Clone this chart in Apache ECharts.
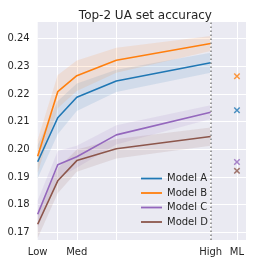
<!DOCTYPE html>
<html><head><meta charset="utf-8">
<script src="https://cdn.jsdelivr.net/npm/echarts@6/dist/echarts.min.js"></script>
<style>html,body{margin:0;padding:0;background:#fff}#c{width:253px;height:264px}</style>
</head><body><div id="c"></div>
<script>
const models = ['Model A', 'Model B', 'Model C', 'Model D'];
const colors = ['#1f77b4', '#ff7f0e', '#9467bd', '#8c564b'];
const xPos = [0, 1.02, 1.99, 4.0, 8.8];
const mlPos = 10.14;
const xGridPos = [1.02, 1.99, 4.0, 8.8, 10.14];
const xTickPos = [0, 1.99, 8.8, 10.14];
const xTickLabels = ['Low', 'Med', 'High', 'ML'];
const yTicks = [0.17, 0.18, 0.19, 0.20, 0.21, 0.22, 0.23, 0.24];

const meanA = [0.1955, 0.2114, 0.2188, 0.2247, 0.2313];
const lowA  = [0.1895, 0.2054, 0.2138, 0.2207, 0.2277];
const highA = [0.2015, 0.2174, 0.2238, 0.2287, 0.2349];
const meanB = [0.1975, 0.2208, 0.2266, 0.2322, 0.2382];
const lowB  = [0.1915, 0.2148, 0.2211, 0.2277, 0.2355];
const highB = [0.2035, 0.2268, 0.2321, 0.2367, 0.2409];
const meanC = [0.1765, 0.1944, 0.1973, 0.2052, 0.2134];
const lowC  = [0.1715, 0.1894, 0.1933, 0.2017, 0.2109];
const highC = [0.1815, 0.1994, 0.2013, 0.2087, 0.2159];
const meanD = [0.1729, 0.1886, 0.1959, 0.2002, 0.2046];
const lowD  = [0.1679, 0.1841, 0.1919, 0.1967, 0.2013];
const highD = [0.1779, 0.1931, 0.1999, 0.2037, 0.2079];
const mlVals = [0.2141, 0.2264, 0.1954, 0.1922];

const means = [meanA, meanB, meanC, meanD];
const lows = [lowA, lowB, lowC, lowD];
const highs = [highA, highB, highC, highD];

function hexA(hex, a) {
  const r = parseInt(hex.slice(1, 3), 16), g = parseInt(hex.slice(3, 5), 16), b = parseInt(hex.slice(5, 7), 16);
  return 'rgba(' + r + ',' + g + ',' + b + ',' + a + ')';
}
const xMark = 'path://M0,1.6L1.6,0L5,3.4L8.4,0L10,1.6L6.6,5L10,8.4L8.4,10L5,6.6L1.6,10L0,8.4L3.4,5Z';

const series = [];
models.forEach((m, k) => {
  const lo = lows[k], hi = highs[k];
  series.push({
    name: 'band' + k, type: 'custom', z: 1, silent: true,
    data: xPos.map((x, i) => [x, lo[i], hi[i]]),
    encode: { x: 0, y: [1, 2] },
    renderItem: function (params, api) {
      if (params.dataIndex !== 0) return;
      const pts = [];
      for (let i = 0; i < xPos.length; i++) pts.push(api.coord([xPos[i], hi[i]]));
      for (let i = xPos.length - 1; i >= 0; i--) pts.push(api.coord([xPos[i], lo[i]]));
      return { type: 'polygon', shape: { points: pts }, style: { fill: hexA(colors[k], 0.12) } };
    }
  });
});
models.forEach((m, k) => {
  series.push({
    name: m, type: 'line', z: 3, symbol: 'none', showSymbol: false, color: colors[k],
    lineStyle: { width: 1.6, color: colors[k] },
    data: xPos.map((x, i) => [x, means[k][i]])
  });
});
models.forEach((m, k) => {
  series.push({
    name: 'ml' + k, type: 'scatter', z: 4, symbol: xMark, symbolSize: 6.5,
    itemStyle: { color: colors[k] },
    data: [[mlPos, mlVals[k]]]
  });
});
series.push({
  name: 'divider', type: 'line', data: [], z: 2,
  markLine: {
    silent: true, symbol: 'none', label: { show: false },
    lineStyle: { color: '#808080', width: 1.5, type: [1.5, 2.5] },
    data: [{ xAxis: 8.8 }]
  }
});

const chart = echarts.init(document.getElementById('c'), null, { renderer: 'canvas' });
chart.setOption({
  animation: false,
  backgroundColor: '#ffffff',
  textStyle: { fontFamily: 'DejaVu Sans' },
  title: {
    text: 'Top-2 UA set accuracy', left: 140.4, top: 5, textAlign: 'center',
    textStyle: { fontSize: 12, fontWeight: 'normal', color: '#262626', fontFamily: 'DejaVu Sans' }
  },
  grid: { left: 37.7, right: 7, top: 22, bottom: 24, show: true, backgroundColor: '#EAEAF2', borderWidth: 0 },
  xAxis: {
    type: 'value', min: 0, max: 10.6,
    axisLine: { show: false },
    axisTick: { show: false, customValues: xGridPos },
    splitLine: { show: true, lineStyle: { color: '#ffffff', width: 1 } },
    axisLabel: {
      customValues: xTickPos, margin: 7, fontSize: 10, color: '#262626', fontFamily: 'DejaVu Sans',
      formatter: function (v) {
        let best = 0;
        for (let i = 0; i < xTickPos.length; i++) if (Math.abs(xTickPos[i] - v) < Math.abs(xTickPos[best] - v)) best = i;
        return xTickLabels[best];
      }
    }
  },
  yAxis: {
    type: 'value', min: 0.1672, max: 0.246,
    axisLine: { show: false },
    axisTick: { show: false, customValues: yTicks },
    splitLine: { show: true, lineStyle: { color: '#ffffff', width: 1 } },
    axisLabel: {
      customValues: yTicks, margin: 8, fontSize: 10, color: '#262626', fontFamily: 'DejaVu Sans',
      formatter: function (v) { return v.toFixed(2); }
    }
  },
  legend: {
    data: models, orient: 'vertical', left: 136, top: 168.5,
    icon: 'rect', itemWidth: 21, itemHeight: 1.8, itemGap: 4.5,
    textStyle: { fontSize: 10, color: '#262626', fontFamily: 'DejaVu Sans' }
  },
  series: series
});
</script></body></html>
